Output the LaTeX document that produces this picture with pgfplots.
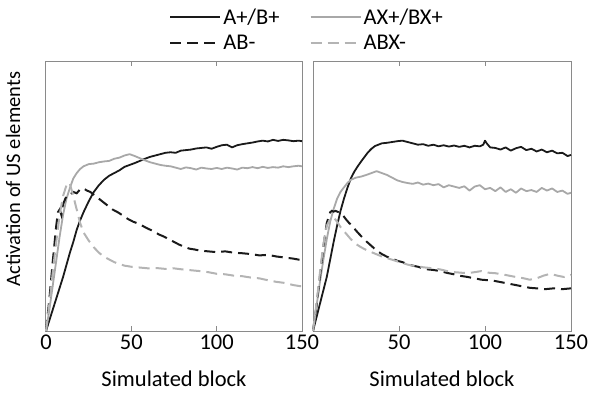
\documentclass[border=0pt]{standalone}
\usepackage{fontspec}
\setmainfont{Carlito}
\usepackage{pgfplots}
\pgfplotsset{compat=1.18}
\definecolor{lblack}{HTML}{1A1A1A}
\definecolor{lgray}{HTML}{A8A8A8}
\definecolor{dgray}{HTML}{B4B4B4}
\definecolor{frame}{HTML}{8A8A8A}
\newcommand{\bigf}{\fontsize{22.5}{27}\selectfont}
\pgfplotsset{
  myax/.style={
    scale only axis, width=256pt, height=270pt,
    xmin=0, xmax=150, ymin=0, ymax=1,
    ytick=\empty,
    tick align=inside, major tick length=5pt,
    axis line style={draw=frame, line width=1pt},
    every tick/.style={draw=frame, line width=1pt},
    /pgf/number format/assume math mode=true,
    font=\bigf,
    tick label style={font=\bigf},
    xlabel={Simulated block},
    x label style={at={(axis description cs:0.5,-0.176)}, anchor=center},
    clip=false,
  },
  sA/.style={lblack, line width=1.8pt, line join=round},
  sAX/.style={lgray, line width=1.8pt, line join=round},
  sAB/.style={lblack, line width=2pt, dash pattern=on 11pt off 6pt},
  sABX/.style={dgray, line width=2pt, dash pattern=on 11pt off 6pt},
}
\begin{document}
\begin{tikzpicture}
\useasboundingbox (0,0) rectangle (589pt,392pt);
\begin{axis}[myax, at={(46pt,61pt)}, anchor=south west,
  xtick={0,50,100,150},
  ylabel={Activation of US elements},
  y label style={at={(axis description cs:-0.129,0.563)}, anchor=center, font=\fontsize{20.5}{24}\selectfont},
  legend columns=2,
  legend cell align=left,
  legend style={at={(0.469,1.022)}, anchor=south west, draw=none, fill=none,
    font=\bigf, row sep=5pt,
    /tikz/every even column/.append style={column sep=28pt}},
  legend image code/.code={\draw[#1] (0pt,0pt) -- (50pt,0pt);},
]
\addplot[sA] coordinates {(0,0) (2,0.04) (4,0.08) (6,0.12) (8,0.16) (10,0.20) (12,0.245) (14,0.29) (16,0.33) (18,0.375) (20,0.41) (22,0.44) (25,0.48) (28,0.515) (31,0.54) (34,0.56) (37,0.575) (40,0.585) (43,0.595) (46,0.608) (49,0.615) (52,0.622) (55,0.63) (58,0.638) (61,0.645) (64,0.65) (67,0.655) (70,0.66) (73,0.662) (76,0.66) (79,0.668) (82,0.67) (85,0.672) (88,0.676) (91,0.678) (94,0.68) (97,0.675) (100,0.682) (103,0.688) (106,0.69) (109,0.68) (112,0.688) (115,0.692) (118,0.695) (121,0.698) (124,0.702) (127,0.705) (130,0.702) (133,0.708) (136,0.704) (139,0.708) (142,0.706) (145,0.703) (148,0.705) (150,0.703)};
\addlegendentry{A+/B+}
\addplot[sAX] coordinates {(0,0) (2,0.08) (4,0.17) (6,0.26) (8,0.35) (10,0.43) (12,0.49) (14,0.53) (16,0.565) (18,0.585) (20,0.6) (22,0.61) (25,0.618) (28,0.62) (31,0.625) (34,0.628) (37,0.63) (40,0.638) (43,0.642) (46,0.65) (49,0.655) (52,0.648) (55,0.64) (58,0.632) (61,0.625) (64,0.62) (67,0.615) (70,0.612) (73,0.61) (76,0.605) (79,0.6) (82,0.606) (85,0.603) (88,0.598) (91,0.605) (94,0.602) (97,0.6) (100,0.604) (103,0.6) (106,0.605) (109,0.602) (112,0.598) (115,0.605) (118,0.603) (121,0.607) (124,0.603) (127,0.608) (130,0.604) (133,0.607) (136,0.605) (139,0.61) (142,0.607) (145,0.61) (148,0.612) (150,0.61)};
\addlegendentry{AX+/BX+}
\addplot[sAB] coordinates {(0,0) (2,0.12) (4,0.26) (6,0.39) (7,0.44) (8,0.45) (9,0.43) (10,0.47) (12,0.5) (14,0.505) (16,0.515) (18,0.51) (20,0.525) (22,0.528) (24,0.52) (26,0.515) (28,0.505) (30,0.495) (33,0.48) (36,0.465) (39,0.45) (42,0.44) (45,0.428) (48,0.415) (51,0.405) (54,0.398) (57,0.388) (60,0.378) (63,0.37) (66,0.358) (69,0.35) (72,0.34) (75,0.33) (78,0.32) (81,0.312) (84,0.305) (87,0.302) (90,0.298) (95,0.295) (100,0.292) (105,0.295) (110,0.29) (115,0.288) (120,0.285) (125,0.28) (130,0.282) (135,0.276) (140,0.272) (145,0.268) (150,0.262)};
\addlegendentry{AB-}
\addplot[sABX] coordinates {(0,0) (2,0.1) (4,0.22) (6,0.33) (8,0.43) (10,0.5) (12,0.54) (13,0.55) (14,0.545) (16,0.5) (18,0.45) (20,0.4) (22,0.365) (25,0.335) (28,0.31) (31,0.29) (34,0.275) (37,0.265) (40,0.255) (43,0.248) (46,0.242) (50,0.238) (55,0.235) (60,0.232) (65,0.233) (70,0.23) (75,0.232) (80,0.228) (85,0.225) (90,0.222) (95,0.218) (100,0.212) (105,0.21) (110,0.205) (115,0.203) (120,0.198) (125,0.195) (130,0.188) (135,0.182) (140,0.178) (145,0.17) (150,0.165)};
\addlegendentry{ABX-}
\end{axis}
\begin{axis}[myax, at={(313pt,61pt)}, anchor=south west, width=258pt,
  xtick={50,100,150},
]
\addplot[sA] coordinates {(0,0) (2,0.05) (4,0.1) (6,0.15) (8,0.2) (10,0.265) (12,0.33) (14,0.39) (16,0.445) (18,0.49) (20,0.53) (22,0.565) (24,0.59) (26,0.61) (28,0.628) (30,0.645) (32,0.662) (34,0.675) (36,0.685) (38,0.69) (40,0.695) (43,0.697) (46,0.7) (49,0.703) (52,0.705) (55,0.7) (58,0.695) (61,0.69) (64,0.692) (67,0.686) (70,0.69) (73,0.684) (76,0.688) (79,0.683) (82,0.687) (85,0.682) (88,0.686) (91,0.68) (94,0.686) (97,0.684) (99,0.69) (100,0.705) (101,0.695) (103,0.68) (106,0.678) (109,0.672) (112,0.68) (115,0.668) (118,0.677) (121,0.682) (124,0.67) (127,0.675) (130,0.665) (133,0.672) (136,0.662) (139,0.668) (142,0.658) (145,0.66) (148,0.648) (150,0.652)};
\addplot[sAX] coordinates {(0,0) (2,0.09) (4,0.18) (6,0.263) (8,0.34) (10,0.405) (12,0.452) (14,0.49) (16,0.515) (18,0.532) (20,0.548) (22,0.56) (25,0.568) (28,0.572) (31,0.578) (34,0.585) (37,0.592) (40,0.585) (43,0.578) (46,0.568) (49,0.558) (52,0.552) (55,0.548) (58,0.545) (61,0.55) (64,0.542) (67,0.546) (70,0.54) (73,0.544) (76,0.532) (79,0.54) (82,0.535) (85,0.53) (88,0.536) (91,0.52) (94,0.535) (97,0.54) (100,0.525) (103,0.53) (106,0.518) (109,0.532) (112,0.515) (115,0.525) (118,0.512) (121,0.528) (124,0.518) (127,0.522) (130,0.515) (133,0.53) (136,0.52) (139,0.528) (142,0.515) (145,0.52) (148,0.508) (150,0.512)};
\addplot[sAB] coordinates {(0,0) (2,0.09) (4,0.2) (6,0.31) (8,0.4) (10,0.44) (11,0.445) (12,0.442) (13,0.445) (15,0.44) (17,0.432) (19,0.415) (21,0.4) (23,0.388) (25,0.372) (27,0.358) (29,0.345) (31,0.332) (34,0.315) (37,0.298) (40,0.285) (43,0.275) (46,0.268) (49,0.26) (52,0.255) (55,0.248) (58,0.242) (61,0.238) (64,0.232) (67,0.228) (70,0.226) (74,0.222) (78,0.215) (82,0.21) (86,0.204) (90,0.2) (94,0.195) (98,0.19) (102,0.188) (106,0.185) (110,0.18) (114,0.175) (118,0.17) (122,0.165) (126,0.16) (130,0.158) (135,0.155) (140,0.158) (145,0.155) (150,0.158)};
\addplot[sABX] coordinates {(0,0) (2,0.1) (4,0.215) (6,0.32) (8,0.39) (10,0.415) (12,0.42) (14,0.405) (16,0.385) (18,0.37) (20,0.355) (22,0.34) (25,0.322) (28,0.31) (31,0.3) (34,0.292) (37,0.284) (40,0.276) (43,0.27) (46,0.264) (49,0.258) (52,0.252) (55,0.246) (58,0.242) (61,0.24) (64,0.236) (67,0.234) (70,0.232) (74,0.228) (78,0.222) (82,0.218) (86,0.216) (90,0.214) (94,0.218) (98,0.222) (102,0.216) (106,0.214) (110,0.21) (114,0.205) (118,0.2) (122,0.196) (126,0.19) (130,0.195) (134,0.205) (138,0.212) (142,0.205) (146,0.2) (150,0.208)};
\end{axis}
\end{tikzpicture}
\end{document}
